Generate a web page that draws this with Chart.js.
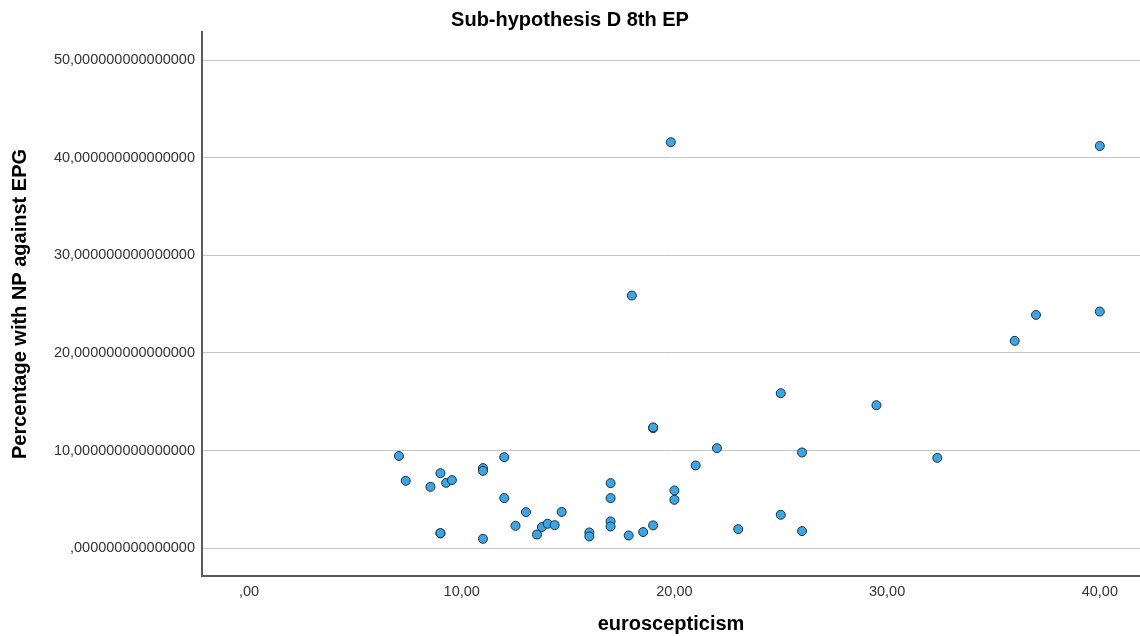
<!DOCTYPE html>
<html>
<head>
<meta charset="utf-8">
<title>Sub-hypothesis D 8th EP</title>
<script src="https://cdn.jsdelivr.net/npm/chart.js@4/dist/chart.umd.min.js"></script>
<style>
    html, body { margin: 0; padding: 0; background: #fff; }
    #wrap { width: 1140px; height: 636px; position: relative; }
</style>
</head>
<body>
<div id="wrap"><canvas id="scatterChart"></canvas></div>
<script>
/* data */
const euroscepticism = [
    7.05, 7.37, 8.53, 9.0, 9.27, 9.54, 9.0, 9.0, 11.0, 11.0,
    12.0, 12.0, 11.0, 12.53, 13.02, 13.54, 13.77, 14.04, 14.37, 14.7,
    16.0, 16.0, 17.0, 17.0, 17.0, 17.0, 17.85, 18.53, 19.0, 19.0,
    19.0, 20.0, 20.0, 21.0, 22.0, 23.0, 25.0, 29.5, 26.0, 32.36,
    25.0, 26.0, 19.83, 18.0, 40.0, 37.0, 40.0, 36.0
];
const percentageNP = [
    9.45, 6.91, 6.29, 7.69, 6.70, 6.98, 1.52, 1.55, 8.21, 7.93,
    9.33, 5.14, 0.97, 2.30, 3.70, 1.41, 2.17, 2.51, 2.37, 3.72,
    1.62, 1.21, 6.67, 5.14, 2.75, 2.23, 1.31, 1.66, 2.34, 12.30,
    12.38, 5.92, 4.96, 8.48, 10.25, 1.96, 15.88, 14.65, 9.81, 9.26,
    3.43, 1.76, 41.58, 25.88, 41.20, 23.90, 24.24, 21.24
];
const xTicks = [0, 10, 20, 30, 40];
const yTicks = [0, 10, 20, 30, 40, 50];

function commaNumber(value, digits) {
    let s = value.toFixed(digits).replace('.', ',');
    if (s.indexOf('0,') === 0) s = s.slice(1);
    return s;
}

document.addEventListener('DOMContentLoaded', function() {
    loadScatterChart();
});

function loadScatterChart() {
    const ctx = document.getElementById('scatterChart');
    if (!ctx) return;

    const points = euroscepticism.map((x, i) => ({ x: x, y: percentageNP[i] }));
    const tickFont = { family: 'Liberation Sans, Arial, sans-serif', size: 14.5 };
    const titleFont = { family: 'Liberation Sans, Arial, sans-serif', size: 20, weight: 'bold' };

    new Chart(ctx, {
        type: 'scatter',
        data: {
            datasets: [{
                label: 'Percentage with NP against EPG',
                data: points,
                backgroundColor: '#33a8ee',
                borderColor: '#2b2b2b',
                borderWidth: 1,
                pointRadius: 4.5,
                pointHoverRadius: 4.5
            }]
        },
        options: {
            responsive: true,
            maintainAspectRatio: false,
            animation: false,
            layout: { padding: 0, autoPadding: false },
            plugins: {
                legend: { display: false },
                tooltip: { enabled: false },
                title: {
                    display: true,
                    text: 'Sub-hypothesis D 8th EP',
                    color: '#000',
                    font: titleFont,
                    padding: { top: 8, bottom: 0 }
                }
            },
            scales: {
                x: {
                    type: 'linear',
                    min: -2.21,
                    max: 41.89,
                    afterFit: function(scale) {
                        scale.height = 60;
                        scale.paddingLeft = 0;
                        scale.paddingRight = 0;
                    },
                    afterBuildTicks: function(scale) {
                        scale.ticks = xTicks.map(v => ({ value: v }));
                    },
                    grid: { display: false, drawTicks: false },
                    border: { display: true, color: '#5a5a5a', width: 2 },
                    ticks: {
                        color: '#333',
                        font: tickFont,
                        padding: 7,
                        callback: function(value) { return commaNumber(value, 2); }
                    },
                    title: {
                        display: true,
                        text: 'euroscepticism',
                        color: '#000',
                        font: { family: 'Liberation Sans, Arial, sans-serif', size: 20, weight: 'bold' },
                        padding: { top: 4, bottom: 0 }
                    }
                },
                y: {
                    type: 'linear',
                    min: -2.84,
                    max: 52.87,
                    afterFit: function(scale) {
                        scale.width = 202;
                        scale.paddingTop = 0;
                        scale.paddingBottom = 0;
                    },
                    afterBuildTicks: function(scale) {
                        scale.ticks = yTicks.map(v => ({ value: v }));
                    },
                    grid: { color: '#c4c4c4', lineWidth: 1, drawTicks: false },
                    border: { display: true, color: '#5a5a5a', width: 2 },
                    ticks: {
                        color: '#333',
                        font: tickFont,
                        padding: 7,
                        callback: function(value) { return commaNumber(value, 15); }
                    },
                    title: {
                        display: true,
                        text: 'Percentage with NP against EPG',
                        color: '#000',
                        font: titleFont,
                        padding: { top: 8, bottom: 0 }
                    }
                }
            }
        }
    });
}
</script>
</body>
</html>
